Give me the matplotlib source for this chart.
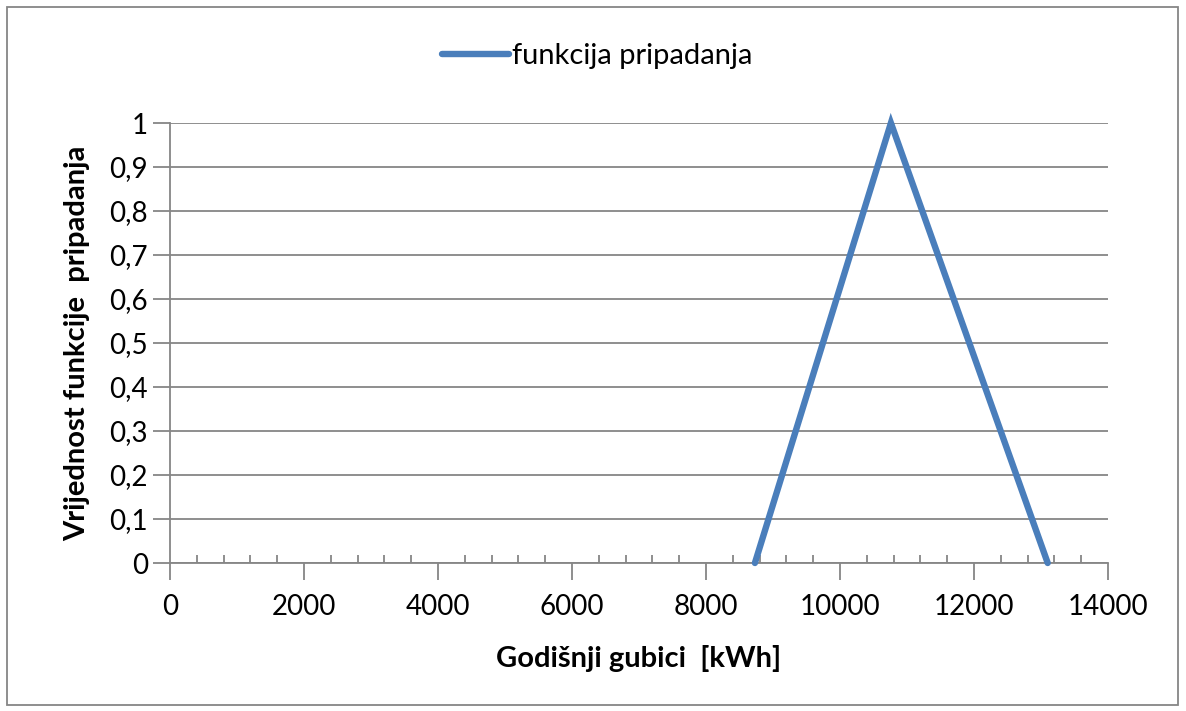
import matplotlib
matplotlib.use("Agg")
import matplotlib.pyplot as plt
from matplotlib.patches import Rectangle
from matplotlib.ticker import MultipleLocator, FuncFormatter

# membership function (triangle)
losses_kwh = [8730, 10760, 13100]
membership = [0, 1, 0]

x_ticks = [0, 2000, 4000, 6000, 8000, 10000, 12000, 14000]
y_ticks = [0, 0.1, 0.2, 0.3, 0.4, 0.5, 0.6, 0.7, 0.8, 0.9, 1.0]

plt.rcParams["font.family"] = ["Lato", "DejaVu Sans"]

W, H = 1186, 711
fig = plt.figure(figsize=(W / 100, H / 100), dpi=100)

# outer chart border like the Excel chart area
fig.patches.append(Rectangle((7 / W, 6 / H), (1178 - 7) / W, (704 - 6) / H,
                             transform=fig.transFigure, fill=False,
                             edgecolor="#868686", linewidth=1.3))

left, right, top, bottom = 170, 1108, 123, 563
ax = fig.add_axes([left / W, 1 - bottom / H, (right - left) / W, (bottom - top) / H])

grey = "#868686"
ax.plot(losses_kwh, membership, color="#4A7EBB", linewidth=4.6,
        solid_capstyle="round", solid_joinstyle="miter", clip_on=False,
        label="funkcija pripadanja", zorder=3)

ax.set_xlim(0, 14000)
ax.set_ylim(0, 1)
ax.set_xticks(x_ticks)
ax.set_yticks(y_ticks)
ax.xaxis.set_minor_locator(MultipleLocator(400))
ax.yaxis.set_major_formatter(FuncFormatter(lambda v, p: f"{v:g}".replace(".", ",")))

ax.grid(axis="y", color=grey, linewidth=1.3)
ax.set_axisbelow(True)
for s in ["top", "right"]:
    ax.spines[s].set_visible(False)
for s in ["left", "bottom"]:
    ax.spines[s].set_color(grey)
    ax.spines[s].set_linewidth(1.3)

ax.tick_params(axis="both", which="major", colors=grey, labelcolor="black",
               labelsize=20, width=1.3, length=12, direction="out")
ax.tick_params(axis="x", which="minor", colors=grey, width=1.3, length=6,
               direction="in")
ax.tick_params(axis="x", pad=10)
ax.tick_params(axis="y", pad=4)

ax.set_xlabel("Godišnji gubici  [kWh]", fontsize=21, fontweight="bold", labelpad=18)
ax.set_ylabel("Vrijednost funkcije  pripadanja", fontsize=21, fontweight="bold", labelpad=14)

fig.legend(loc="center", bbox_to_anchor=(597 / W, 1 - 56 / H), frameon=False,
           fontsize=21, handlelength=2.3, handletextpad=0.1)

fig.savefig("out.png", dpi=100)
